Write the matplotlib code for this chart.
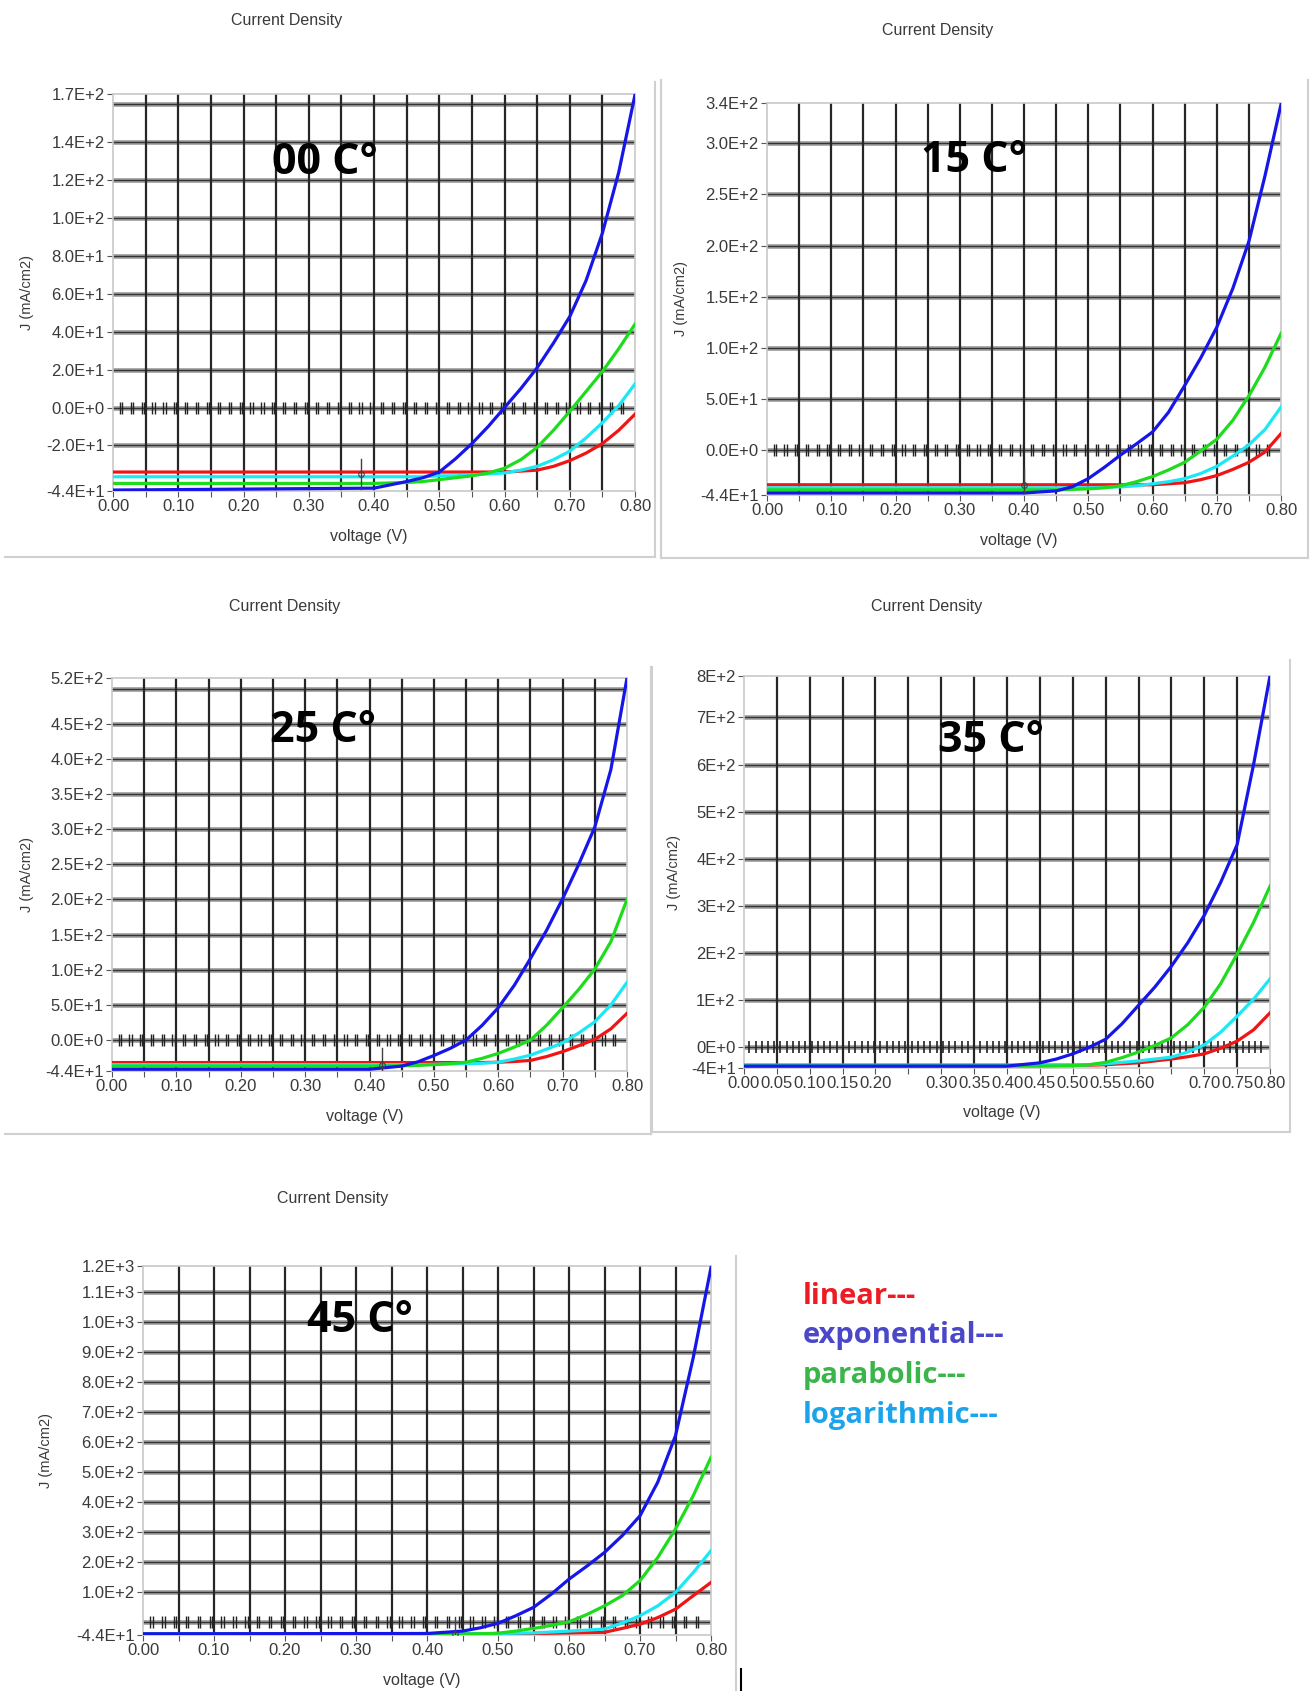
import numpy as np
import matplotlib
matplotlib.use("Agg")
import matplotlib.pyplot as plt
from matplotlib.lines import Line2D

# voltage points (V) shared by every curve
V = [0.00, 0.40, 0.45, 0.475, 0.50, 0.525, 0.55, 0.575, 0.60, 0.625,
     0.65, 0.675, 0.70, 0.725, 0.75, 0.775, 0.80]

# 00 C
t00_linear = [-34, -34, -34, -34, -34, -34, -34, -34, -34, -33.5, -33, -31, -28, -24, -19, -12, -3.5]
t00_exp = [-43.5, -42.5, -39, -37, -34, -27, -19, -10, 0, 10, 21, 34, 48, 67, 92, 124, 165]
t00_para = [-40, -40, -39.5, -39, -38, -37, -36, -34.5, -32, -27.5, -21, -12, -2, 8.5, 19, 31, 44]
t00_log = [-36.5, -36.5, -36.5, -36.5, -36, -36, -35.5, -35, -34.5, -33, -31, -27.5, -23, -16, -8, 1, 12.5]

# 15 C
t15_linear = [-34, -34, -34, -34, -34, -34, -34, -34, -34, -33, -32, -29, -25, -19, -12, -2, 16]
t15_exp = [-42, -42, -40, -36, -28, -17, -5, 6, 17.6, 37, 63, 90, 120, 158, 204, 268, 338]
t15_para = [-39, -39, -39, -38.5, -38, -37, -35, -31, -26, -19.5, -12, -1, 10.5, 29, 53, 81, 114]
t15_log = [-37, -37, -37, -37, -37, -36.5, -36, -35, -33, -31, -28, -23, -16, -6, 5, 20, 42]

# 25 C
t25_linear = [-32, -32, -32, -32, -32, -32, -32, -32, -31.5, -30.5, -29, -23.5, -16.5, -8, 1, 16, 38]
t25_exp = [-41.5, -41.5, -37, -31, -22, -12, 0, 21, 46, 78, 116, 156, 201, 250, 303, 385, 515]
t25_para = [-37, -37, -36.5, -36, -35, -33.5, -31.5, -26, -19, -10, 0, 21, 46, 72, 101, 140, 200]
t25_log = [-35, -35, -35, -35, -34.5, -34, -33.5, -33, -31.5, -27, -21.5, -13, -4, 10, 26, 50, 82]

# 35 C
t35_linear = [-38, -38, -38, -38, -38, -38, -37, -35, -33, -29, -25, -20, -14, -2, 13, 37, 73]
t35_exp = [-40, -40, -33, -25, -14, 0, 17, 50, 89, 128, 172, 222, 280, 350, 430, 600, 788]
t35_para = [-40, -40, -40, -39.5, -39, -37, -32, -22, -10, 4, 20, 48, 85, 135, 198, 265, 342]
t35_log = [-38, -38, -38, -38, -38, -37, -35, -32, -29, -25, -21, -10, 5, 32, 66, 102, 145]

# 45 C
t45_linear = [-40, -40, -40, -40, -40, -40, -39, -38, -37, -36, -35, -22, -8, 14, 42, 87, 131]
t45_exp = [-40, -39, -31, -20, -5, 20, 48, 92, 142, 185, 231, 287, 353, 465, 620, 880, 1180]
t45_para = [-42, -42, -41, -40, -38, -31, -22, -12, 0, 24, 53, 87, 137, 214, 309, 420, 548]
t45_log = [-40, -40, -40, -40, -39, -38, -37, -34, -31, -28, -24, -4, 20, 53, 98, 164, 237]

temps = ["00 C°", "15 C°", "25 C°", "35 C°", "45 C°"]

# y axis: limits, labelled ticks, gridline values
ylims = [(-44, 165.4), (-44, 339.4), (-44, 515), (-44, 788), (-44, 1185)]
ytick_vals = [
    [-44, -20, 0, 20, 40, 60, 80, 100, 120, 140, 165.4],
    [-44, 0, 50, 100, 150, 200, 250, 300, 339.4],
    [-44, 0, 50, 100, 150, 200, 250, 300, 350, 400, 450, 515],
    [-44, 0, 100, 200, 300, 400, 500, 600, 700, 788],
    [-44, 100, 200, 300, 400, 500, 600, 700, 800, 900, 1000, 1100, 1185],
]
ytick_labels = [
    ["-4.4E+1", "-2.0E+1", "0.0E+0", "2.0E+1", "4.0E+1", "6.0E+1", "8.0E+1", "1.0E+2", "1.2E+2", "1.4E+2", "1.7E+2"],
    ["-4.4E+1", "0.0E+0", "5.0E+1", "1.0E+2", "1.5E+2", "2.0E+2", "2.5E+2", "3.0E+2", "3.4E+2"],
    ["-4.4E+1", "0.0E+0", "5.0E+1", "1.0E+2", "1.5E+2", "2.0E+2", "2.5E+2", "3.0E+2", "3.5E+2", "4.0E+2", "4.5E+2", "5.2E+2"],
    ["-4E+1", "0E+0", "1E+2", "2E+2", "3E+2", "4E+2", "5E+2", "6E+2", "7E+2", "8E+2"],
    ["-4.4E+1", "1.0E+2", "2.0E+2", "3.0E+2", "4.0E+2", "5.0E+2", "6.0E+2", "7.0E+2", "8.0E+2", "9.0E+2", "1.0E+3", "1.1E+3", "1.2E+3"],
]
ygrids = [
    [-20, 0, 20, 40, 60, 80, 100, 120, 140, 160],
    [0, 50, 100, 150, 200, 250, 300],
    [0, 50, 100, 150, 200, 250, 300, 350, 400, 450, 500],
    [0, 100, 200, 300, 400, 500, 600, 700],
    [0, 100, 200, 300, 400, 500, 600, 700, 800, 900, 1000, 1100],
]
cursor_x = [0.38, 0.40, 0.42, None, 0.44]
cursor_y = [-35, -34, -36, None, -40]

xgrid = np.arange(0, 0.8001, 0.05)
xlab_std = ["0.00" if abs(x) < 1e-9 else ("%.2f" % x if round(x * 100) % 10 == 0 else "") for x in xgrid]
xlab_35 = ["" if round(x * 100) in (25, 65) else "%.2f" % x for x in xgrid]
# little tick marks sitting on the zero line
pair_marks = np.arange(0.012, 0.795, 0.0167)
single_marks = np.arange(0.008, 0.795, 0.0095)

series = [
    (t00_linear, t00_exp, t00_para, t00_log),
    (t15_linear, t15_exp, t15_para, t15_log),
    (t25_linear, t25_exp, t25_para, t25_log),
    (t35_linear, t35_exp, t35_para, t35_log),
    (t45_linear, t45_exp, t45_para, t45_log),
]
colors = ["#f01414", "#1616e8", "#1cdc1c", "#1ae8f4"]

W, H = 1311, 1691
fig = plt.figure(figsize=(W / 100, H / 100), dpi=100)

# pixel boxes: left, top, right, bottom
boxes = [(113, 94, 635, 491), (767, 103, 1281, 495), (112, 678, 627, 1071),
         (744, 676, 1270, 1068), (143, 1266, 711, 1635)]
title_pos = [(287, 20), (938, 30), (285, 606), (927, 606), (333, 1198)]
temp_pos = [(325, 162), (974, 160), (323, 731), (991, 740), (360, 1320)]
ylab_x = [27, 681, 27, 674, 46]

axfont = ["Liberation Sans", "DejaVu Sans"]
bigfont = ["Liberation Sans Narrow", "Open Sans", "DejaVu Sans"]
txtc = "#3a3a3a"

for i in range(5):
    l, t, r, b = boxes[i]
    ax = fig.add_axes([l / W, 1 - b / H, (r - l) / W, (b - t) / H])
    ax.set_xlim(0, 0.8)
    ax.set_ylim(*ylims[i])
    for g in ygrids[i]:
        ax.axhline(g, color="#a0a0a0", lw=3.4, zorder=1)
        ax.axhline(g, color="#333333", lw=1.0, zorder=1)
    for x in xgrid[1:-1]:
        ax.axvline(x, color="#262626", lw=1.6, zorder=1)
    if i == 3:
        ax.plot(single_marks, np.zeros(len(single_marks)), ls="none", marker="|",
                ms=9, mew=1.2, color="#222222", zorder=2)
    else:
        for off in (-0.0017, 0.0017):
            ax.plot(pair_marks + off, np.zeros(len(pair_marks)), ls="none", marker="|",
                    ms=9, mew=1.0, color="#222222", zorder=2)
    lin, ex, par, lg = series[i]
    ax.plot(V, lin, color=colors[0], lw=2.3, zorder=3)
    ax.plot(V, lg, color=colors[3], lw=2.3, zorder=3)
    ax.plot(V, par, color=colors[2], lw=2.3, zorder=3)
    ax.plot(V, ex, color=colors[1], lw=2.3, zorder=4)
    if cursor_x[i] is not None:
        ax.plot([cursor_x[i], cursor_x[i]], [cursor_y[i] - 8, cursor_y[i] + 8 * ylims[i][1] / 165],
                color="#404040", lw=1, zorder=5)
        ax.plot([cursor_x[i]], [cursor_y[i]], marker="o", ms=4, mfc="none", mec="#404040", mew=0.8, zorder=5)

    ax.set_yticks(ytick_vals[i], ytick_labels[i])
    ax.set_xticks(xgrid, xlab_35 if i == 3 else xlab_std)
    ax.tick_params(axis="both", length=4, width=0.8, color="#555555", labelsize=12,
                   labelcolor=txtc, pad=2)
    for lab in ax.get_xticklabels() + ax.get_yticklabels():
        lab.set_family(axfont)
    for s in ax.spines.values():
        s.set_color("#c8c8c8")
        s.set_linewidth(1.2)
    ax.set_facecolor("white")

    fig.text(title_pos[i][0] / W, 1 - title_pos[i][1] / H, "Current Density", ha="center", va="center",
             fontsize=11.5, color=txtc, family=axfont)
    fig.text(temp_pos[i][0] / W, 1 - temp_pos[i][1] / H, temps[i], ha="center", va="center",
             fontsize=31, fontweight="bold", color="black", family=bigfont)
    fig.text(((l + r) / 2 - 5) / W, 1 - (b + 45) / H, "voltage (V)", ha="center", va="center",
             fontsize=11.5, color=txtc, family=axfont)
    fig.text(ylab_x[i] / W, 1 - ((t + b) / 2) / H, "J (mA/cm2)", ha="center", va="center",
             rotation=90, fontsize=10.5, color=txtc, family=axfont)

# light panel frames
frame_c = "#d0d0d0"
frame_lines = [
    ([655, 655], [82, 557]), ([5, 655], [557, 557]),
    ([661, 661], [80, 558]), ([661, 1308], [558, 558]), ([1308, 1308], [80, 558]),
    ([651, 651], [667, 1134]), ([5, 651], [1134, 1134]),
    ([652, 652], [667, 1132]), ([652, 1290], [1132, 1132]), ([1290, 1290], [660, 1132]),
    ([736, 736], [1256, 1691]),
]
for xs, ys in frame_lines:
    fig.add_artist(Line2D([x / W for x in xs], [1 - y / H for y in ys], color=frame_c, lw=1.5))
fig.add_artist(Line2D([741 / W, 741 / W], [1 - 1669 / H, 0], color="black", lw=1.5))

# legend text
legend_names = ["linear---", "exponential---", "parabolic---", "logarithmic---"]
legend_colors = ["#ed1c24", "#4b47c9", "#3ab54a", "#1ba4ec"]
legend_y = [1296, 1336, 1376, 1415]
for name, c, y in zip(legend_names, legend_colors, legend_y):
    fig.text(803 / W, 1 - y / H, name, ha="left", va="center", fontsize=21,
             fontweight="bold", color=c, family=["Open Sans", "DejaVu Sans"])

fig.savefig("out.png", dpi=100, facecolor="white")
